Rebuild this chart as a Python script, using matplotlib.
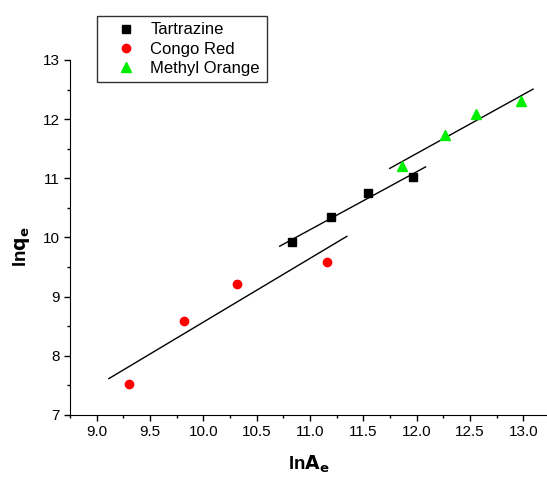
import numpy as np
import matplotlib
matplotlib.use("Agg")
import matplotlib.pyplot as plt

plt.rcParams['font.family'] = ['Liberation Sans', 'DejaVu Sans']

# data
tart_x = [10.83, 11.20, 11.54, 11.97]
tart_y = [9.92, 10.34, 10.75, 11.02]

congo_x = [9.30, 9.82, 10.32, 11.16]
congo_y = [7.52, 8.59, 9.22, 9.59]

mo_x = [11.86, 12.27, 12.56, 12.98]
mo_y = [11.21, 11.73, 12.09, 12.31]

labels = ['Tartrazine', 'Congo Red', 'Methyl Orange']

fig = plt.figure(figsize=(5.47, 4.78), dpi=100)
ax = fig.add_axes([0.128, 0.132, 0.8715, 0.7425])


def fit_line(x, y):
    # linear fit drawn over the data range padded by 10 %
    k, b = np.polyfit(x, y, 1)
    pad = 0.1 * (max(x) - min(x))
    xx = np.array([min(x) - pad, max(x) + pad])
    ax.plot(xx, k * xx + b, color='k', lw=1)


fit_line(tart_x, tart_y)
fit_line(congo_x, congo_y)
fit_line(mo_x, mo_y)

h1, = ax.plot(tart_x, tart_y, ls='none', marker='s', ms=5.5, color='k')
h2, = ax.plot(congo_x, congo_y, ls='none', marker='o', ms=6, color='#ff0000')
h3, = ax.plot(mo_x, mo_y, ls='none', marker='^', ms=7, color='#00ee00')

ax.set_xlim(8.75, 13.22)
ax.set_ylim(7, 13)
ax.set_xticks(np.arange(9.0, 13.01, 0.5))
ax.set_xticks(np.arange(8.75, 13.22, 0.25), minor=True)
ax.set_yticks(np.arange(7, 13.01, 1))
ax.set_yticks(np.arange(7, 13.01, 0.5), minor=True)
ax.xaxis.set_major_formatter(matplotlib.ticker.FormatStrFormatter('%.1f'))

ax.spines['top'].set_visible(False)
ax.spines['right'].set_visible(False)
ax.tick_params(which='major', direction='out', length=4, width=1, labelsize=11)
ax.tick_params(which='minor', direction='out', length=2.5, width=1)

ax.set_xlabel(r'ln$\mathbf{A_e}$', fontsize=13.5, fontweight='bold')
ax.set_ylabel(r'ln$\mathbf{q_e}$', fontsize=13.5, fontweight='bold')
ax.xaxis.set_label_coords(0.5, -0.11)
ax.yaxis.set_label_coords(-0.08, 0.475)

leg = fig.legend([h1, h2, h3], labels, loc='upper left',
                 bbox_to_anchor=(97 / 547, 1 - 15.7 / 478),
                 frameon=True, fancybox=False, fontsize=12,
                 borderaxespad=0, handlelength=2.7, handletextpad=0.1,
                 labelspacing=0.25, borderpad=0.4)
leg.get_frame().set_edgecolor('k')
leg.get_frame().set_linewidth(1)

fig.savefig('out.png', dpi=100)
